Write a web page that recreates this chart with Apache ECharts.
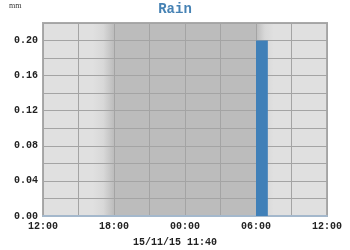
<!DOCTYPE html>
<html><head><meta charset="utf-8">
<script src="https://cdn.jsdelivr.net/npm/echarts@6/dist/echarts.min.js"></script>
<style>html,body{margin:0;padding:0;background:#fff}#c{width:350px;height:250px}</style>
</head><body><div id="c"></div>
<script>
// hours since 2015-11-14 12:00
var xTickLabels = ['12:00','15:00','18:00','21:00','00:00','03:00','06:00','09:00','12:00'];
var rainStart = [18];      // 06:00
var rainEnd = [19];        // 07:00
var rainValues = [0.20];   // mm
var duskStart = 4.2, duskEnd = 6, dawnStart = 18, dawnEnd = 19.5;
var yTicks = [0, 0.04, 0.08, 0.12, 0.16, 0.20];

var LIGHT = '#e0e0e0', DARK = '#bcbcbc';
var chart = echarts.init(document.getElementById('c'), null, {renderer:'canvas'});
var mono = '"Liberation Mono","DejaVu Sans Mono",monospace';
chart.setOption({
  animation: false,
  title: [
    {text:'Rain', left:'center', top:-3, textStyle:{fontFamily:mono, fontSize:14, fontWeight:'bold', color:'#4682b4'}},
    {text:'mm', left:4, top:-3, textStyle:{fontFamily:'"Liberation Serif",serif', fontSize:8, fontWeight:'normal', color:'#333'}},
    {text:'15/11/15 11:40', left:'center', top:232, textStyle:{fontFamily:mono, fontSize:10, fontWeight:'bold', color:'#222'}}
  ],
  grid: {left:43, right:23, top:23, bottom:34, show:true, backgroundColor:LIGHT, borderColor:'#aaaaaa', borderWidth:2, z:0},
  xAxis: {
    type:'value', min:0, max:24, interval:3, z:2,
    axisLine:{show:true, lineStyle:{color:'#a4b8cc', width:2}},
    axisTick:{show:false},
    splitLine:{show:true, lineStyle:{color:'#a4a4a4', width:1}},
    axisLabel:{margin:5, fontFamily:mono, fontSize:10, fontWeight:'bold', color:'#222',
      formatter:function(v){var i=Math.round(v/3); return (i%2===0)? xTickLabels[i] : '';}}
  },
  yAxis: {
    type:'value', min:0, max:0.22, interval:0.02, z:2,
    axisLine:{show:false}, axisTick:{show:false},
    splitLine:{show:true, lineStyle:{color:'#a4a4a4', width:1}},
    axisLabel:{margin:5, fontFamily:mono, fontSize:10, fontWeight:'bold', color:'#222',
      formatter:function(v){
        for (var k=0;k<yTicks.length;k++){ if (Math.abs(yTicks[k]-v)<1e-6) return v.toFixed(2); }
        return '';
      }}
  },
  series: [
    {
      type:'custom', z:1, silent:true,
      data:[[duskStart,duskEnd,0],[duskEnd,dawnStart,1],[dawnStart,dawnEnd,2]],
      encode:{x:[0,1]},
      renderItem:function(params, api){
        var p0 = api.coord([api.value(0), 0.22]);
        var p1 = api.coord([api.value(1), 0]);
        var t = api.value(2);
        var fill;
        if (t===1) fill = DARK;
        else fill = new echarts.graphic.LinearGradient(0,0,1,0, t===0 ?
          [{offset:0,color:LIGHT},{offset:0.5,color:'#d8d8d8'},{offset:1,color:DARK}] :
          [{offset:0,color:DARK},{offset:0.5,color:'#d8d8d8'},{offset:1,color:LIGHT}]);
        return {type:'rect', shape:{x:p0[0], y:p0[1], width:p1[0]-p0[0], height:p1[1]-p0[1]}, style:{fill:fill}};
      }
    },
    {
      type:'custom', z:3,
      data: rainStart.map(function(s,i){return [s, rainEnd[i], rainValues[i]];}),
      encode:{x:[0,1], y:2},
      renderItem:function(params, api){
        var p0 = api.coord([api.value(0), api.value(2)]);
        var p1 = api.coord([api.value(1), 0]);
        return {type:'rect', shape:{x:p0[0], y:p0[1], width:p1[0]-p0[0], height:p1[1]-p0[1]}, style:{fill:'#4080b8'}};
      }
    }
  ]
});
</script></body></html>
